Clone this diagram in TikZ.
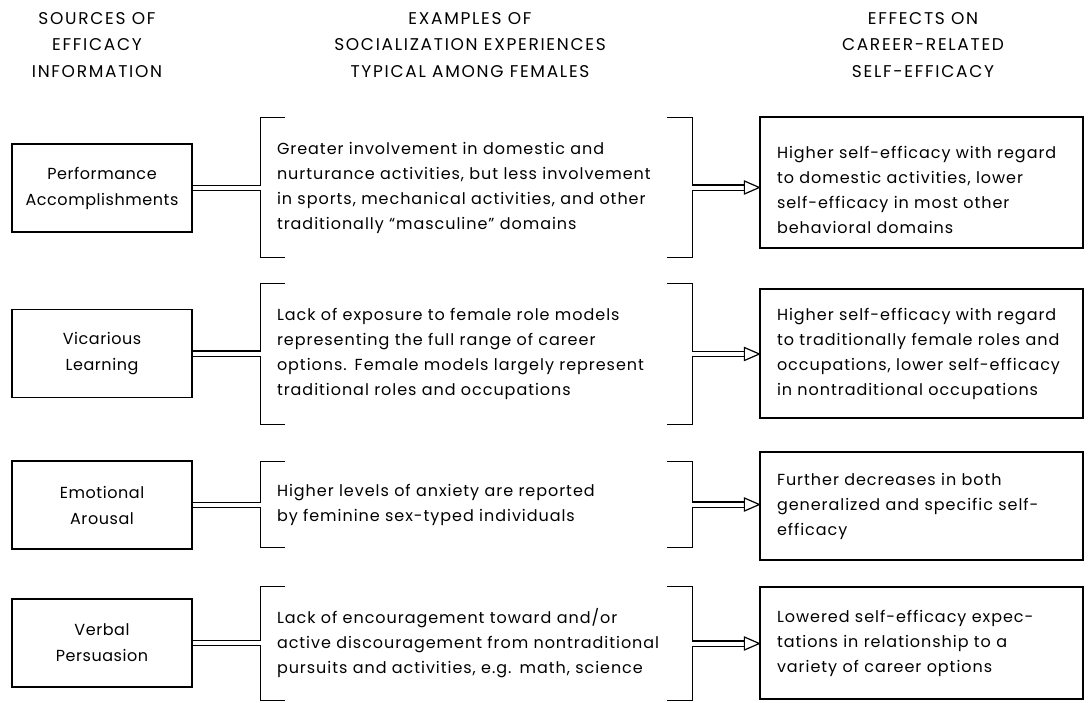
\documentclass[tikz,border=0pt]{standalone}
\usepackage{fontspec}
\setmainfont{Poppins}
\newfontfamily\bodyfont[LetterSpace=6]{Poppins}
\newfontfamily\srcfont[LetterSpace=3.5]{Poppins}
\newfontfamily\hdrfont[LetterSpace=10]{Poppins}
\usetikzlibrary{calc}
\begin{document}
\begin{tikzpicture}[x=1pt,y=-1pt,
  every node/.style={font=\bodyfont\fontsize{16}{25}\selectfont},
  src/.style={draw, line width=1.3pt, minimum width=180pt, minimum height=88pt, align=center, inner sep=0pt, font=\srcfont\fontsize{16}{26}\selectfont},
  ex/.style={minimum width=431pt, text width=399pt, inner xsep=16pt, inner ysep=0pt, align=left},
  eff/.style={draw, line width=1.3pt, minimum width=323pt, text width=289pt, inner xsep=17pt, inner ysep=0pt, align=left},
  hdr/.style={align=center, font=\hdrfont\fontsize{17}{26.5}\selectfont},
  brk/.style={line width=1.3pt},
  dbl/.style={double, double distance=4pt, line width=1.2pt},
  head/.style={line width=1.2pt, fill=white, line join=miter}]
\useasboundingbox (0,0) rectangle (1089,702);

% headers
\node[hdr] (h1) at (97,45) {SOURCES OF\\EFFICACY\\INFORMATION};
\node[hdr] (h2) at (470,45) {EXAMPLES OF\\SOCIALIZATION EXPERIENCES\\TYPICAL AMONG FEMALES};
\node[hdr] (h3) at (923,45) {EFFECTS ON\\CAREER-RELATED\\SELF-EFFICACY};

% sources
\node[src] (s1) at (102,188) {Performance\\Accomplishments};
\node[src] (s2) at (102,353.5) {Vicarious\\Learning};
\node[src] (s3) at (102,505) {Emotional\\Arousal};
\node[src] (s4) at (102,643) {Verbal\\Persuasion};

% examples
\node[ex, minimum height=139pt] (e1) at (476.5,187.5) {Greater involvement in domestic and\\nurturance activities, but less involvement\\in sports, mechanical activities, and other\\traditionally “masculine” domains};
\node[ex, minimum height=140pt] (e2) at (476.5,354) {Lack of exposure to female role models\\representing the full range of career\\options. Female models largely represent\\traditional roles and occupations};
\node[ex, minimum height=85pt] (e3) at (476.5,504.5) {Higher levels of anxiety are reported\\by feminine sex-typed individuals};
\node[ex, minimum height=113pt] (e4) at (476.5,643.5) {Lack of encouragement toward and/or\\active discouragement from nontraditional\\pursuits and activities, e.g. math, science};

% effects
\node[eff, minimum height=131pt] (f1) at (921.5,182.5) {\rule{0pt}{27pt}Higher self-efficacy with regard\\to domestic activities, lower\\self-efficacy in most other\\behavioral domains};
\node[eff, minimum height=129pt] (f2) at (921.5,353.5) {Higher self-efficacy with regard\\to traditionally female roles and\\occupations, lower self-efficacy\\in nontraditional occupations};
\node[eff, minimum height=108pt] (f3) at (921.5,506) {Further decreases in both\\generalized and specific self-\\efficacy};
\node[eff, minimum height=112pt] (f4) at (921.5,643) {Lowered self-efficacy expec-\\tations in relationship to a\\variety of career options};

\foreach \i in {1,2,3,4}{
  \draw[brk] ([xshift=24pt]e\i.north west) -- (e\i.north west) -- (e\i.south west) -- ([xshift=24pt]e\i.south west);
  \draw[brk] ([xshift=-25pt]e\i.north east) -- (e\i.north east) -- (e\i.south east) -- ([xshift=-25pt]e\i.south east);
  \draw[dbl] (s\i.east) -- (s\i.east -| e\i.west);
  \coordinate (t\i) at (e\i.east -| f\i.west);
  \draw[dbl] (e\i.east) -- ($(t\i)+(-15,0)$);
  \draw[head] ($(t\i)+(-15,-6.5)$) -- (t\i) -- ($(t\i)+(-15,6.5)$) -- cycle;
}
\end{tikzpicture}
\end{document}
